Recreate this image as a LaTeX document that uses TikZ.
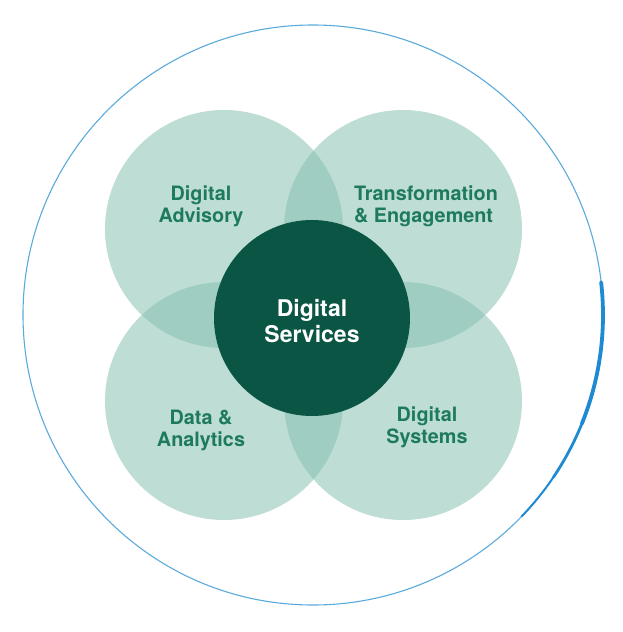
\documentclass[tikz,border=0pt]{standalone}
\usepackage{fontspec}
\setmainfont{TeX Gyre Heros}
\usetikzlibrary{positioning}
\definecolor{ringblue}{HTML}{5AAADC}
\definecolor{arcblue}{HTML}{1F8AD2}
\definecolor{petalfill}{RGB}{135,192,177}
\definecolor{corefill}{HTML}{0A5544}
\definecolor{labelcol}{HTML}{1E7A5E}

\begin{document}
\begin{tikzpicture}[x=1pt,y=-1pt,
  petal/.style={circle,fill=petalfill,fill opacity=0.54,draw=none,
                minimum size=238pt,inner sep=0pt},
  core/.style={circle,fill=corefill,minimum size=196pt,inner sep=0pt},
  lbl/.style={text=labelcol,align=center,inner sep=0pt,
              font=\bfseries\fontsize{19.8}{22}\selectfont},
  corelbl/.style={text=white,align=center,inner sep=0pt,
                  font=\bfseries\fontsize{23}{26}\selectfont},
]
\useasboundingbox (0,0) rectangle (623,632);

% outer ring with the heavier arc on the right
\coordinate (mid) at (313,315);
\draw[ringblue,line width=1.1pt] (mid) circle (290pt);
\draw[arcblue,line width=3.8pt,line cap=round] (mid) ++(6.5:290pt)
  arc[start angle=6.5,end angle=-22,radius=290pt];
\draw[arcblue,line width=2.8pt,line cap=round] (mid) ++(-22:290pt)
  arc[start angle=-22,end angle=-34,radius=290pt];
\draw[arcblue,line width=2pt,line cap=round] (mid) ++(-34:290pt)
  arc[start angle=-34,end angle=-44,radius=290pt];

% four petals
\node[petal] (adv) at (224,229) {};
\node[petal] (trf) at (403,229) {};
\node[petal] (dat) at (224,401) {};
\node[petal] (sys) at (403,401) {};

\node[core] (svc) at (312,318) {};
\node[corelbl] (svctxt) at (312,321) {Digital\\Services};

\node[lbl] (advtxt) at (201,206) {Digital\\Advisory};
\node[lbl,align=left] (trftxt) at (426,206) {Transformation\\\& Engagement};
\node[lbl] (dattxt) at (201,430) {Data \&\\Analytics};
\node[lbl] (systxt) at (427,427) {Digital\\Systems};
\end{tikzpicture}
\end{document}
